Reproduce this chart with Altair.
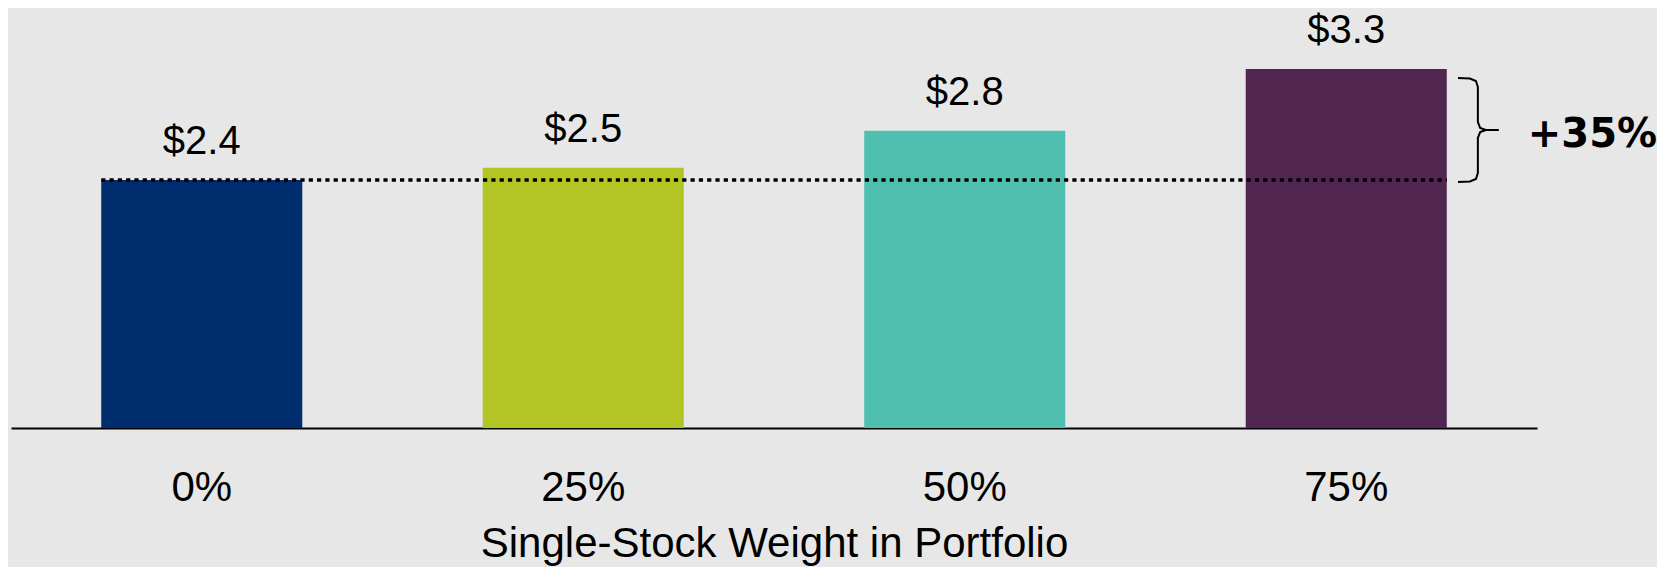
import altair as alt
import pandas as pd

# ---- data ----
categories = ["0%", "25%", "50%", "75%"]
values = [2.4, 2.5, 2.8, 3.3]
value_labels = ["$2.4", "$2.5", "$2.8", "$3.3"]
bar_colors = ["#002D6E", "#B2C524", "#4FBFAF", "#512751"]

# reference line (baseline = first bar) and change annotation
ref_start = categories[0]
ref_end = categories[-1]
ref_value = values[0]
change_text = "+35%"

# curly brace geometry (category-index units on x, value units on y)
brace_x = [3.293, 3.324, 3.340, 3.345, 3.345, 3.351, 3.366, 3.400,
           3.366, 3.351, 3.345, 3.345, 3.340, 3.324, 3.293]
brace_y = [3.227, 3.223, 3.203, 3.154, 2.870, 2.822, 2.806, 2.806,
           2.806, 2.789, 2.741, 2.457, 2.408, 2.388, 2.384]
change_x = 3.476
change_y = 2.668

FONT = "Liberation Sans"
y_domain = [0.389, 3.795]

df = pd.DataFrame({"cat": categories, "value": values, "label": value_labels})
ref_df = pd.DataFrame({"start": [ref_start], "end": [ref_end], "y": [ref_value]})
brace_df = pd.DataFrame({"u": brace_x, "v": brace_y, "i": list(range(len(brace_x)))})
pct_df = pd.DataFrame({"u": [change_x], "v": [change_y], "t": [change_text]})

xscale = alt.Scale(domain=categories, paddingInner=0.473, paddingOuter=0.2365)
yscale = alt.Scale(domain=y_domain, zero=False, nice=False, clamp=True)

bars = alt.Chart(df).mark_bar().encode(
    x=alt.X("cat:N", scale=xscale, sort=categories,
            title="Single-Stock Weight in Portfolio",
            axis=alt.Axis(labelAngle=0, labelFontSize=42, labelFont=FONT,
                          labelColor="black", labelBaseline="alphabetic",
                          labelPadding=72, ticks=False, tickSize=0,
                          domainColor="black", domainWidth=2,
                          titleFontSize=42, titleFont=FONT,
                          titleFontWeight="normal", titleColor="black",
                          titleY=128, titleBaseline="alphabetic")),
    y=alt.Y("value:Q", scale=yscale, axis=None),
    color=alt.Color("cat:N", scale=alt.Scale(domain=categories, range=bar_colors),
                    legend=None),
)

labels = alt.Chart(df).mark_text(
    dy=-26, baseline="alphabetic", fontSize=40, font=FONT, color="black"
).encode(
    x=alt.X("cat:N", scale=xscale, sort=categories),
    y=alt.Y("value:Q", scale=yscale),
    text="label:N",
)

rule = alt.Chart(ref_df).mark_rule(
    color="black", strokeWidth=3.5, strokeDash=[4.2, 4.1]
).encode(
    x=alt.X("start:N", scale=xscale, sort=categories, bandPosition=0),
    x2=alt.X2("end:N", bandPosition=1),
    y=alt.Y("y:Q", scale=yscale),
)

main = alt.layer(bars, labels, rule)

uscale = alt.Scale(domain=[-0.5, 3.5], zero=False, nice=False)

brace = alt.Chart(brace_df).mark_line(
    color="black", strokeWidth=2, clip=False
).encode(
    x=alt.X("u:Q", scale=uscale, axis=None),
    y=alt.Y("v:Q", scale=yscale),
    order="i:Q",
)

pct = alt.Chart(pct_df).mark_text(
    align="left", baseline="alphabetic", fontSize=40, font="DejaVu Sans",
    fontWeight="bold", color="black", clip=False
).encode(
    x=alt.X("u:Q", scale=uscale, axis=None),
    y=alt.Y("v:Q", scale=yscale),
    text="t:N",
)

annot = alt.layer(brace, pct)

chart = alt.layer(main, annot).resolve_scale(x="independent").properties(
    width=1526, height=420,
    autosize=alt.AutoSizeParams(type="none"),
    padding={"left": 3, "top": 0, "right": 120, "bottom": 139},
).configure(background="#E7E7E7").configure_view(stroke=None)

chart.save("out.html", embed_options={"renderer": "svg", "actions": False})
